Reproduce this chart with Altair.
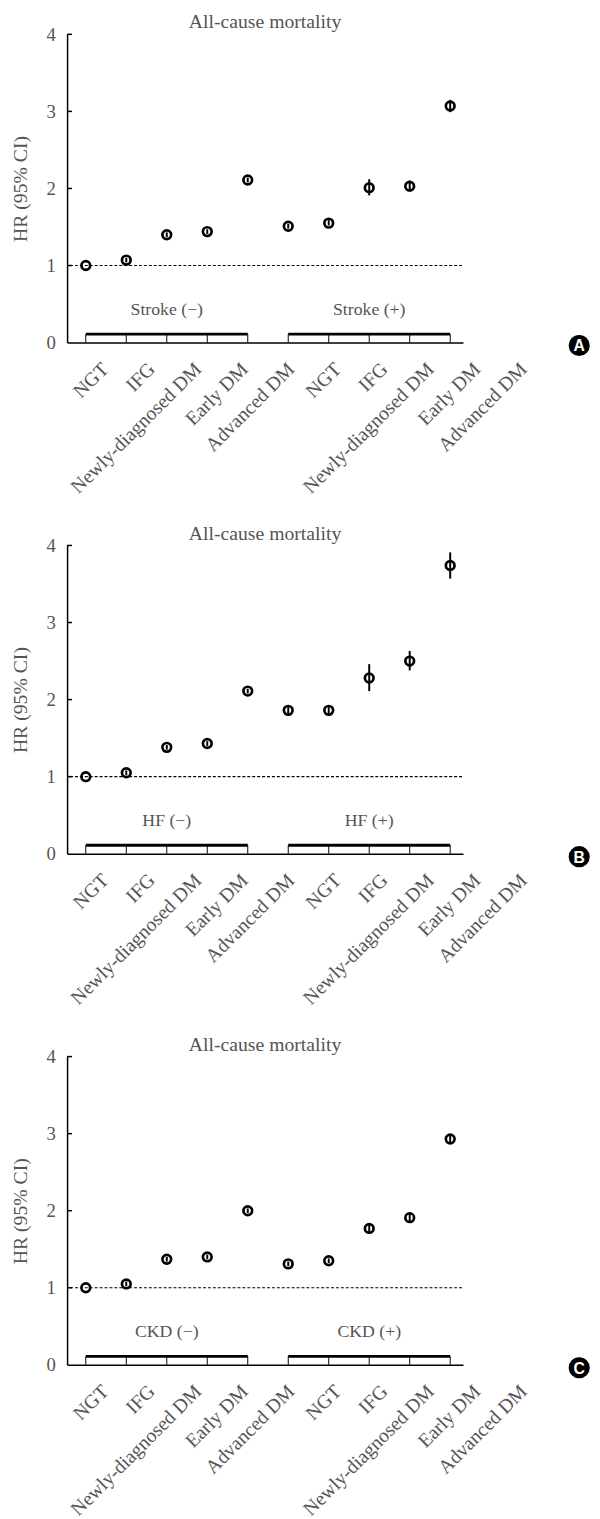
import altair as alt
import pandas as pd

categories = ["NGT", "IFG", "Newly-diagnosed DM", "Early DM", "Advanced DM"]

# Panel A: stroke
a_groups = ["Stroke (−)", "Stroke (+)"]
a_hr = [1.00, 1.07, 1.40, 1.44, 2.11, 1.51, 1.55, 2.01, 2.03, 3.07]
a_lo = [1.00, 1.04, 1.37, 1.41, 2.08, 1.48, 1.52, 1.91, 1.96, 2.99]
a_hi = [1.00, 1.10, 1.43, 1.47, 2.14, 1.54, 1.59, 2.12, 2.10, 3.15]

# Panel B: heart failure
b_groups = ["HF (−)", "HF (+)"]
b_hr = [1.00, 1.05, 1.38, 1.43, 2.11, 1.86, 1.86, 2.28, 2.50, 3.74]
b_lo = [1.00, 1.02, 1.35, 1.40, 2.08, 1.81, 1.81, 2.11, 2.38, 3.57]
b_hi = [1.00, 1.08, 1.41, 1.46, 2.14, 1.91, 1.91, 2.46, 2.63, 3.91]

# Panel C: CKD
c_groups = ["CKD (−)", "CKD (+)"]
c_hr = [1.00, 1.05, 1.37, 1.40, 2.00, 1.31, 1.35, 1.77, 1.91, 2.93]
c_lo = [1.00, 1.02, 1.34, 1.37, 1.97, 1.28, 1.32, 1.72, 1.86, 2.88]
c_hi = [1.00, 1.08, 1.40, 1.43, 2.03, 1.34, 1.38, 1.83, 1.97, 2.99]

panel_title = "All-cause mortality"
y_ticks = [0, 1, 2, 3, 4]
reference_hr = 1
bracket_level = 0.11
group_label_level = 0.42

W, H = 402, 313
FONT = "Liberation Serif"
GRAY = "#555555"


def panel(hr, lo, hi, groups, letter):
    labels = categories + categories
    idx = list(range(len(labels)))
    df = pd.DataFrame({"i": idx, "hr": hr, "lo": lo, "hi": hi, "lab": labels,
                       "b0": [0] * len(idx), "b1": [bracket_level] * len(idx)})
    xs = alt.Scale(domain=[-0.462, 9.316], nice=False, zero=False)
    ys = alt.Scale(domain=[0, 4], nice=False, zero=True)
    yaxis = alt.Axis(values=y_ticks, ticks=False, grid=False, title="HR (95% CI)", format="d",
                     domainColor="black", domainWidth=1.5)

    points = alt.Chart(df).mark_point(
        shape="circle", filled=False, color="black", strokeWidth=2.7, size=78, opacity=1
    ).encode(
        x=alt.X("i:Q", scale=xs, axis=alt.Axis(labels=False, ticks=False, grid=False, title=None,
                                                domainColor="black", domainWidth=1.5)),
        y=alt.Y("hr:Q", scale=ys, axis=yaxis),
    )
    ci = alt.Chart(df).mark_rule(color="black", strokeWidth=2).encode(
        x=alt.X("i:Q", scale=xs, axis=None),
        y=alt.Y("lo:Q", scale=ys, axis=yaxis),
        y2="hi:Q",
    )
    ref = alt.Chart(pd.DataFrame({"v": [reference_hr]})).mark_rule(
        color="black", strokeWidth=1.2, strokeDash=[3, 2]
    ).encode(x=alt.value(3), x2=alt.value(W), y=alt.Y("v:Q", scale=ys, axis=yaxis))

    gdf = pd.DataFrame({"s": [0, 5], "e": [4, 9], "b": [bracket_level] * 2,
                        "c": [2, 7], "g": groups, "gy": [group_label_level] * 2})
    bracket = alt.Chart(gdf).mark_rule(color="black", strokeWidth=3).encode(
        x=alt.X("s:Q", scale=xs, axis=None), x2="e:Q", y=alt.Y("b:Q", scale=ys, axis=yaxis)
    )
    bticks = alt.Chart(df).mark_rule(color="black", strokeWidth=1).encode(
        x=alt.X("i:Q", scale=xs, axis=None), y=alt.Y("b0:Q", scale=ys, axis=yaxis), y2="b1:Q"
    )
    glabels = alt.Chart(gdf).mark_text(font=FONT, fontSize=18, color=GRAY, baseline="middle").encode(
        x=alt.X("c:Q", scale=xs, axis=None), y=alt.Y("gy:Q", scale=ys, axis=yaxis), text="g:N"
    )
    ytk = alt.Chart(pd.DataFrame({"t": y_ticks[1:]})).mark_rule(color="black", strokeWidth=1.5).encode(
        x=alt.value(0), x2=alt.value(5), y=alt.Y("t:Q", scale=ys, axis=yaxis)
    )
    xlabels = alt.Chart(df).mark_text(
        font=FONT, fontSize=20, color=GRAY, angle=315, align="right", baseline="middle"
    ).encode(
        x=alt.X("i:Q", scale=alt.Scale(domain=[0, 9], range=[39, 464], nice=False, zero=False), axis=None),
        y=alt.value(H + 24),
        text="lab:N",
    )
    tdf = pd.DataFrame({"t": [panel_title]})
    title = alt.Chart(tdf).mark_text(font=FONT, fontSize=20, color=GRAY, baseline="middle",
                                     align="center").encode(
        x=alt.value(W / 2), y=alt.value(-12), text="t:N"
    )
    ldf = pd.DataFrame({"l": [letter]})
    badge = alt.Chart(ldf).mark_point(shape="circle", filled=True, color="black", size=460, opacity=1).encode(
        x=alt.value(520), y=alt.value(H + 3)
    )
    badge_txt = alt.Chart(ldf).mark_text(font="Liberation Sans", fontWeight="bold", fontSize=16,
                                         color="white", baseline="middle", align="center").encode(
        x=alt.value(520), y=alt.value(H + 4), text="l:N"
    )
    return alt.layer(ref, bracket, bticks, ytk, ci, points, glabels, xlabels, title, badge,
                     badge_txt).resolve_scale(x="independent").properties(width=W, height=H)


chart = alt.vconcat(
    panel(a_hr, a_lo, a_hi, a_groups, "A"),
    panel(b_hr, b_lo, b_hi, b_groups, "B"),
    panel(c_hr, c_lo, c_hi, c_groups, "C"),
    spacing=26,
).properties(
    padding={"left": 2, "top": -7, "right": 2, "bottom": 0}
).configure_view(stroke=None).configure_axis(
    labelFont=FONT, labelFontSize=19, labelColor=GRAY, labelPadding=12,
    titleFont=FONT, titleFontSize=20, titleColor=GRAY, titleFontWeight="normal", titlePadding=16,
)

chart.save("out.html", embed_options={"renderer": "svg", "actions": False})
